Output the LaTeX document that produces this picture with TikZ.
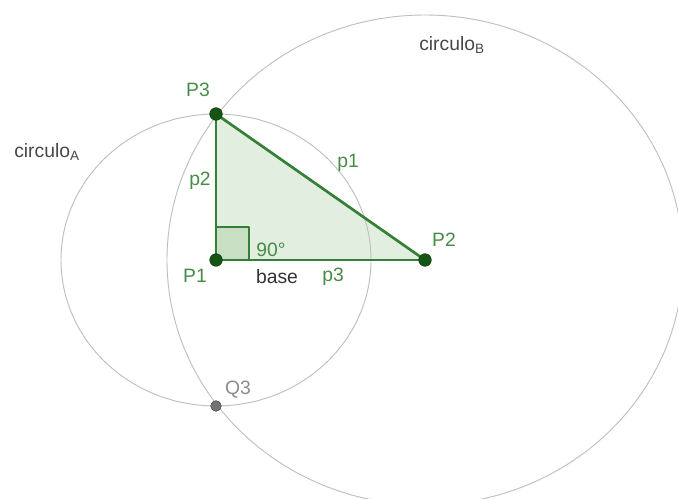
\documentclass[tikz,border=0pt]{standalone}
\usepackage{fontspec}
\setmainfont{Liberation Sans}
\usepackage{tikz}
\usetikzlibrary{positioning,calc}

\definecolor{ggline}{RGB}{52,128,52}
\definecolor{ggdot}{RGB}{20,85,20}
\definecolor{gglabel}{RGB}{70,140,70}
\definecolor{ggfill}{RGB}{226,239,224}
\definecolor{ggsq}{RGB}{200,223,196}
\newcommand{\lblfont}{\fontsize{16.5}{19}\selectfont}

\begin{document}
\begin{tikzpicture}[x=0.03cm, y=0.03cm, line cap=round, line join=round,
                    every node/.style={outer sep=0pt}]

  \tikzset{
    circ/.style={draw=black!25, line width=0.8pt},
    seg/.style={draw=ggline, line width=2.3pt},
    vgreen/.style={circle, draw=ggdot!70!black, fill=ggdot, minimum size=0.38cm, inner sep=0pt},
    vgray/.style={circle, draw=black!75, fill=black!55, minimum size=0.32cm, inner sep=0pt},
    lgreen/.style={text=gglabel, font=\lblfont, inner sep=0pt},
    lgray/.style={text=black!72, font=\lblfont, inner sep=0pt}
  }

  \path[use as bounding box] (0,0) rectangle (678,498);
  \clip (0,0) rectangle (678,498);

  \coordinate (P1) at (216,238);
  \coordinate (P2) at (425,238);
  \coordinate (P3) at (216,384);
  \coordinate (Q3) at (216,92);

  % triangle and right angle
  \fill[ggfill] (P1) -- (P2) -- (P3) -- cycle;
  \filldraw[fill=ggsq, draw=ggline, line width=1.3pt] (P1) rectangle ($(P1)+(33,33)$);

  % circles
  \draw[circ] (P1) ellipse [x radius=155, y radius=146];
  \draw[circ] (P2) ellipse [x radius=258, y radius=245];

  \foreach \a/\b in {P1/P2,P2/P3,P3/P1} \draw[seg] (\a)--(\b);
  \foreach \p in {P1,P2,P3} \node[vgreen] (n\p) at (\p) {};
  \node[vgray] (nQ3) at (Q3) {};

  % labels
  \node[lgreen] (lP3) at ($(P3)+(-18,24)$) {P3};
  \node[lgreen] (lP2) at ($(P2)+(19,20)$) {P2};
  \node[lgreen] (lP1) at ($(P1)+(-21,-16)$) {P1};
  \node[lgreen] (lp2) at (200,317) {p2};
  \node[lgreen] (lp1) at (348,335) {p1};
  \node[lgreen] (lp3) at (333,221) {p3};
  \node[lgreen] (lang) at (271,248) {90°};
  \node[lgray, text=black!80] (lbase) at (277,221) {base};
  \node[lgray, text=black!45] (lQ3) at ($(Q3)+(22,16)$) {Q3};
  \node[lgray] (lcA) at (47,346) {circulo\textsubscript{A}};
  \node[lgray] (lcB) at (452,453) {circulo\textsubscript{B}};
\end{tikzpicture}
\end{document}
